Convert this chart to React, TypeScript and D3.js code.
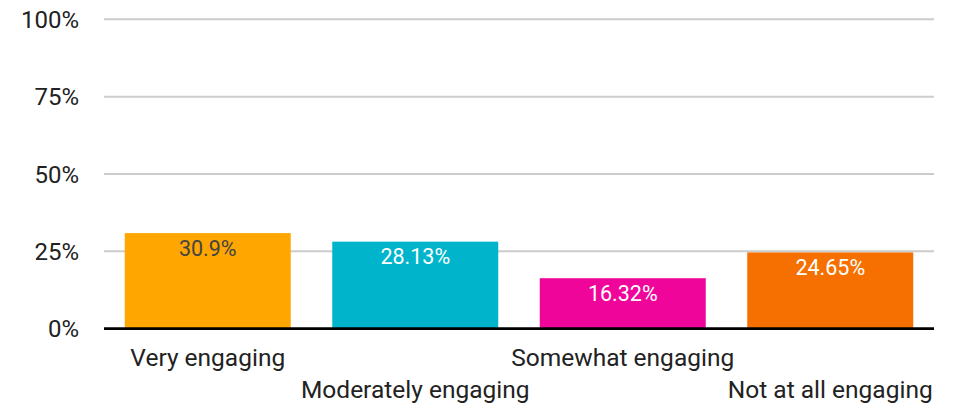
import React from "react";
import * as d3 from "d3";

const categories = ["Very engaging", "Moderately engaging", "Somewhat engaging", "Not at all engaging"];
const values = [30.9, 28.13, 16.32, 24.65];
const valueLabels = ["30.9%", "28.13%", "16.32%", "24.65%"];
const colors = ["#FFA600", "#00B5CB", "#F0059A", "#F57000"];
const labelColors = ["#444444", "#FFFFFF", "#FFFFFF", "#FFFFFF"];
const yTicks = [0, 25, 50, 75, 100];

const W = 959;
const H = 406;
const M = { left: 104, right: 25, top: 19.3, bottom: 77.3 };

export default function App() {
  const x = d3
    .scaleBand<string>()
    .domain(categories)
    .range([M.left, W - M.right])
    .paddingInner(0.2)
    .paddingOuter(0.1);
  const y = d3.scaleLinear().domain([0, 100]).range([H - M.bottom, M.top]);
  const font = "Roboto, 'Noto Sans', sans-serif";

  return (
    <svg
      width={W}
      height={H}
      style={{ position: "absolute", left: 0, top: 0, background: "#fff" }}
      fontFamily={font}
    >
      {yTicks.map((t) => (
        <g key={t}>
          {t !== 0 && (
            <line x1={M.left} x2={W - M.right} y1={y(t)} y2={y(t)} stroke="#cccccc" strokeWidth={2} />
          )}
          <text x={79} y={y(t)} dy="0.36em" textAnchor="end" fontSize={24} fill="#222">
            {t}%
          </text>
        </g>
      ))}
      {categories.map((c, i) => {
        const bx = x(c)!;
        const by = y(values[i]);
        return (
          <g key={c}>
            <rect x={bx} y={by} width={x.bandwidth()} height={y(0) - by} fill={colors[i]} />
            <text
              x={bx + x.bandwidth() / 2}
              y={by + 22.5}
              textAnchor="middle"
              fontSize={21.5}
              fill={labelColors[i]}
            >
              {valueLabels[i]}
            </text>
            <text
              x={bx + x.bandwidth() / 2}
              y={i % 2 === 0 ? 366 : 397.5}
              textAnchor="middle"
              fontSize={24.5}
              fill="#222"
            >
              {c}
            </text>
          </g>
        );
      })}
      <line x1={M.left} x2={W - M.right} y1={y(0)} y2={y(0)} stroke="#000" strokeWidth={2.7} />
    </svg>
  );
}
